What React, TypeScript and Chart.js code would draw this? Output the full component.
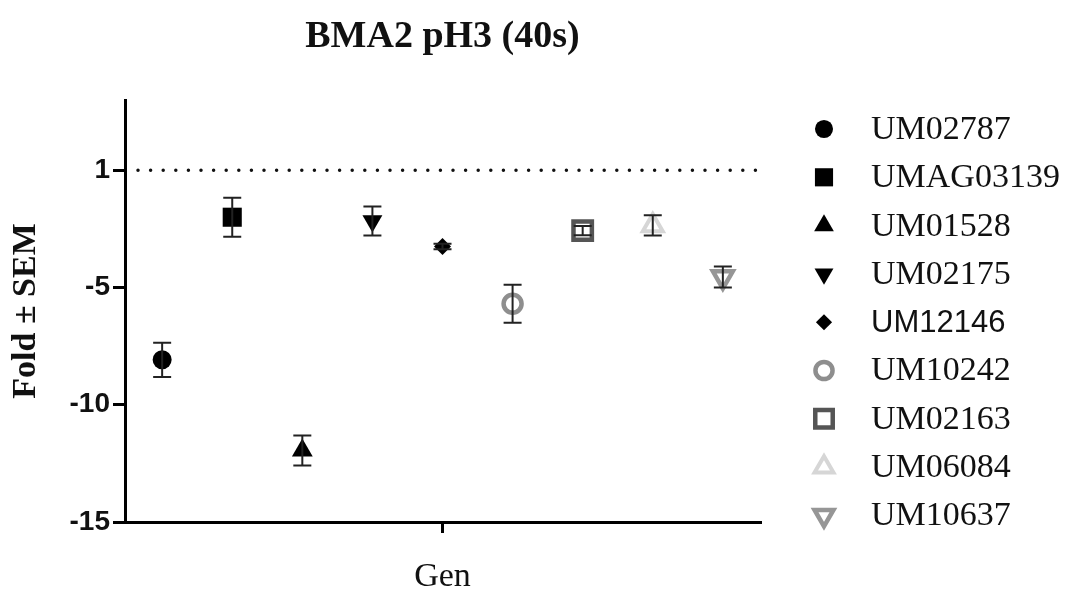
import React, { useEffect, useRef } from "react";
import { Chart, registerables } from "chart.js";
import { drawPoint } from "chart.js/helpers";

Chart.register(...registerables);

// ---- data ----
const strains = ["UM02787", "UMAG03139", "UM01528", "UM02175", "UM12146", "UM10242", "UM02163", "UM06084", "UM10637"];
const foldMeans = [-8.08, -2.0, -11.95, -2.16, -3.25, -5.69, -2.57, -2.35, -4.55];
const foldSEM = [0.73, 0.83, 0.64, 0.62, 0.12, 0.81, 0.2, 0.43, 0.45];
const yTickValues = [-15, -10, -5, 0];
const yTickLabels = ["-15", "-10", "-5", "1"];
const xTickValue = 5;
const xTickLabel = "Gen";
const titleText = "BMA2 pH3 (40s)";
const yTitle = "Fold \u00B1 SEM";

// ---- styles ----
type MarkerStyle = {
  pointStyle: string;
  rotation: number;
  radius: number;
  fill: string;
  stroke: string;
  borderWidth: number;
};
const markers: MarkerStyle[] = [
  { pointStyle: "circle", rotation: 0, radius: 9.5, fill: "#000", stroke: "#000", borderWidth: 0 },
  { pointStyle: "rect", rotation: 0, radius: 13.5, fill: "#000", stroke: "#000", borderWidth: 0 },
  { pointStyle: "triangle", rotation: 0, radius: 12, fill: "#000", stroke: "#000", borderWidth: 0 },
  { pointStyle: "triangle", rotation: 180, radius: 11.5, fill: "#000", stroke: "#000", borderWidth: 0 },
  { pointStyle: "rectRot", rotation: 0, radius: 8.5, fill: "#000", stroke: "#000", borderWidth: 0 },
  { pointStyle: "circle", rotation: 0, radius: 9, fill: "#fff", stroke: "#8e8e8e", borderWidth: 4.5 },
  { pointStyle: "rect", rotation: 0, radius: 13, fill: "#fff", stroke: "#555", borderWidth: 4.5 },
  { pointStyle: "triangle", rotation: 0, radius: 11.5, fill: "#fff", stroke: "#d6d6d6", borderWidth: 4 },
  { pointStyle: "triangle", rotation: 180, radius: 11.5, fill: "#fff", stroke: "#969696", borderWidth: 4.5 },
];
const legendFonts = strains.map((s) => (s === "UM12146" ? "31px 'Liberation Sans', Arial, sans-serif" : "34px 'Liberation Serif', 'Times New Roman', serif"));

const errorBarPlugin = {
  id: "errorBars",
  afterDatasetsDraw(chart: any) {
    const { ctx, scales } = chart;
    const xs = scales.x;
    const ys = scales.y;
    ctx.save();
    ctx.strokeStyle = "#222";
    ctx.lineWidth = 2;
    foldMeans.forEach((m, i) => {
      const px = xs.getPixelForValue(i + 1);
      const top = ys.getPixelForValue(m + foldSEM[i]);
      const bot = ys.getPixelForValue(m - foldSEM[i]);
      const cap = 9;
      ctx.beginPath();
      ctx.moveTo(px, top);
      ctx.lineTo(px, bot);
      ctx.moveTo(px - cap, top);
      ctx.lineTo(px + cap, top);
      ctx.moveTo(px - cap, bot);
      ctx.lineTo(px + cap, bot);
      ctx.stroke();
    });
    ctx.restore();
  },
};

const refLinePlugin = {
  id: "refLine",
  beforeDatasetsDraw(chart: any) {
    const { ctx, scales, chartArea } = chart;
    const y = scales.y.getPixelForValue(0);
    ctx.save();
    ctx.strokeStyle = "#111";
    ctx.lineWidth = 3.5;
    ctx.lineCap = "round";
    ctx.setLineDash([0, 12.6]);
    ctx.beginPath();
    ctx.moveTo(chartArea.left + 13, y);
    ctx.lineTo(chartArea.right, y);
    ctx.stroke();
    ctx.restore();
  },
};

const legendPlugin = {
  id: "customLegend",
  afterDraw(chart: any) {
    const { ctx } = chart;
    const x0 = 824;
    const y0 = 129;
    const step = 48.3;
    ctx.save();
    strains.forEach((name, i) => {
      const y = y0 + i * step;
      const m = markers[i];
      ctx.fillStyle = m.fill;
      ctx.strokeStyle = m.stroke;
      ctx.lineWidth = m.borderWidth;
      drawPoint(ctx, { pointStyle: m.pointStyle, rotation: m.rotation, radius: m.radius * 0.95, borderWidth: m.borderWidth } as any, x0, y);
      ctx.fillStyle = "#111";
      ctx.font = legendFonts[i];
      ctx.textAlign = "left";
      ctx.textBaseline = "middle";
      ctx.fillText(name, 871, y + 1);
    });
    ctx.restore();
  },
};

export default function App() {
  const canvasRef = useRef<HTMLCanvasElement | null>(null);

  useEffect(() => {
    document.body.style.margin = "0";
    const canvas = canvasRef.current;
    if (!canvas) return;
    const datasets = strains.map((name, i) => ({
      label: name,
      data: [{ x: i + 1, y: foldMeans[i] }],
      pointStyle: markers[i].pointStyle,
      rotation: markers[i].rotation,
      pointRadius: markers[i].radius,
      pointHoverRadius: markers[i].radius,
      backgroundColor: markers[i].fill,
      borderColor: markers[i].stroke,
      borderWidth: markers[i].borderWidth,
      showLine: false,
    }));
    const chart = new Chart(canvas, {
      type: "scatter",
      data: { datasets } as any,
      options: {
        animation: false,
        responsive: true,
        maintainAspectRatio: false,
        layout: { padding: { top: 0, right: 315, left: 0, bottom: 0 } },
        plugins: {
          legend: { display: false },
          tooltip: { enabled: false },
          title: {
            display: true,
            text: titleText,
            fullSize: false,
            color: "#111",
            font: { family: "'Liberation Serif', 'Times New Roman', serif", size: 38, weight: "bold", lineHeight: 1.2 },
            padding: { top: 14, bottom: 40.4 },
          },
        },
        scales: {
          x: {
            type: "linear",
            min: 0.47,
            max: 9.53,
            afterBuildTicks: (scale: any) => {
              scale.ticks = [{ value: xTickValue }];
            },
            afterFit: (scale: any) => {
              scale.height = 67;
            },
            ticks: {
              autoSkip: false,
              maxRotation: 0,
              padding: 24,
              color: "#111",
              font: { family: "'Liberation Serif', 'Times New Roman', serif", size: 34 },
              callback: () => xTickLabel,
            },
            grid: { display: true, drawOnChartArea: false, drawTicks: true, tickLength: 11, color: "#000", lineWidth: 3 },
            border: { display: true, color: "#000", width: 3 },
          },
          y: {
            type: "linear",
            min: -15,
            max: 3,
            afterBuildTicks: (scale: any) => {
              scale.ticks = yTickValues.map((v) => ({ value: v }));
            },
            afterFit: (scale: any) => {
              scale.width = 125;
            },
            ticks: {
              autoSkip: false,
              padding: 3,
              color: "#111",
              font: { family: "'Liberation Sans', Arial, sans-serif", size: 28, weight: "bold" },
              callback: (v: any) => {
                const idx = yTickValues.indexOf(Number(v));
                return idx >= 0 ? yTickLabels[idx] : "";
              },
            },
            grid: { display: true, drawOnChartArea: false, drawTicks: true, tickLength: 12, color: "#000", lineWidth: 3 },
            border: { display: true, color: "#000", width: 3 },
            title: {
              display: true,
              text: yTitle,
              color: "#111",
              font: { family: "'Liberation Serif', 'Times New Roman', serif", size: 34, weight: "bold", lineHeight: 1.2 },
              padding: { top: 6, bottom: 4 },
            },
          },
        },
      } as any,
      plugins: [refLinePlugin, errorBarPlugin, legendPlugin],
    });
    return () => chart.destroy();
  }, []);

  return (
    <div style={{ width: 1075, height: 589, position: "relative", background: "#fff" }}>
      <canvas ref={canvasRef} />
    </div>
  );
}
